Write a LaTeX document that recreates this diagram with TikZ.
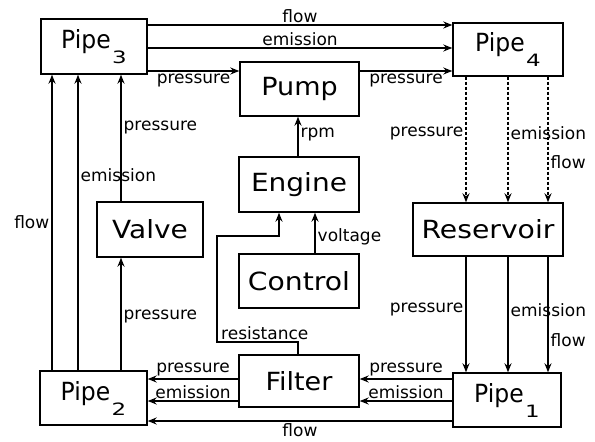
\documentclass[tikz,border=0pt]{standalone}
\usepackage{fontspec}
\setmainfont{DejaVu Sans}
\usetikzlibrary{arrows.meta}
\newcommand{\pipesub}[1]{\hspace{1.5pt}\raisebox{-15pt}{\scalebox{1.35}[1]{\fontsize{17}{17}\selectfont #1}}}
\newcommand{\boxtext}[2]{\scalebox{#1}[1]{#2}}
\begin{document}
\begin{tikzpicture}[x=1pt,y=-1pt,
  box/.style={draw,line width=1.4pt,rectangle,inner sep=0pt,font=\fontsize{25}{27}\selectfont},
  arr/.style={line width=1.4pt,-{Stealth[length=9pt,width=7pt,inset=3pt]}},
  dsh/.style={dash pattern=on 3pt off 2pt},
  lab/.style={font=\fontsize{17}{19}\selectfont,inner sep=2pt}]
\useasboundingbox (0,0) rectangle (595,442);
% nodes
\node[box,minimum width=106pt,minimum height=55pt] (Pipe3) at (94,46.5) {\boxtext{0.94}{Pipe}\pipesub{3}};
\node[box,minimum width=119pt,minimum height=54pt] (Pump) at (299.5,89) {\boxtext{1.08}{Pump}};
\node[box,minimum width=110pt,minimum height=53pt] (Pipe4) at (508,49.5) {\boxtext{0.94}{Pipe}\pipesub{4}};
\node[box,minimum width=150pt,minimum height=53pt] (Reservoir) at (488,229.5) {\boxtext{1.13}{Reservoir}};
\node[box,minimum width=108pt,minimum height=54pt] (Pipe1) at (507,400) {\boxtext{0.94}{Pipe}\pipesub{1}};
\node[box,minimum width=120pt,minimum height=52pt] (Filter) at (299,381) {\boxtext{1.08}{Filter}};
\node[box,minimum width=107pt,minimum height=54pt] (Pipe2) at (93.5,398) {\boxtext{0.94}{Pipe}\pipesub{2}};
\node[box,minimum width=106pt,minimum height=55pt] (Valve) at (150,229.5) {\boxtext{1.12}{Valve}};
\node[box,minimum width=120pt,minimum height=55pt] (Engine) at (299,184.5) {\boxtext{1.12}{Engine}};
\node[box,minimum width=120pt,minimum height=54pt] (Control) at (299,281) {\boxtext{1.13}{Control}};
% helper coordinates
\coordinate (r25) at (0,25);
\coordinate (r48) at (0,48);
\coordinate (r71) at (0,71);
\coordinate (r379) at (0,379);
\coordinate (r401) at (0,401);
\coordinate (r421) at (0,421);
\coordinate (c52) at (52,0);
\coordinate (c78) at (78,0);
\coordinate (c121) at (121,0);
\coordinate (c298) at (298,0);
\coordinate (c315) at (315,0);
\coordinate (c466) at (466,0);
\coordinate (c508) at (508,0);
\coordinate (c548) at (548,0);
\coordinate (b1) at (298,342);
\coordinate (b2) at (217,342);
\coordinate (b3) at (217,236);
\coordinate (b4) at (279,236);
% top
\draw[arr] (Pipe3.east |- r25) -- node[lab,above]{flow} (Pipe4.west |- r25);
\draw[arr] (Pipe3.east |- r48) -- node[lab,above]{emission} (Pipe4.west |- r48);
\draw[arr] (Pipe3.east |- r71) -- node[lab,below]{pressure} (Pump.west |- r71);
\draw[arr] (Pump.east |- r71) -- node[lab,below]{pressure} (Pipe4.west |- r71);
% Pipe4 -> Reservoir
\draw[arr,dsh] (Pipe4.south -| c466) -- node[lab,left,pos=0.45]{pressure} (Reservoir.north -| c466);
\draw[arr,dsh] (Pipe4.south -| c508) -- node[lab,right,pos=0.45]{emission} (Reservoir.north -| c508);
\draw[arr,dsh] (Pipe4.south -| c548) -- node[lab,right,pos=0.68]{flow} (Reservoir.north -| c548);
% Reservoir -> Pipe1
\draw[arr] (Reservoir.south -| c466) -- node[lab,left,pos=0.46]{pressure} (Pipe1.north -| c466);
\draw[arr] (Reservoir.south -| c508) -- node[lab,right,pos=0.46]{emission} (Pipe1.north -| c508);
\draw[arr] (Reservoir.south -| c548) -- node[lab,right,pos=0.72]{flow} (Pipe1.north -| c548);
% Pipe1 -> Filter / Pipe2
\draw[arr] (Pipe1.west |- r379) -- node[lab,above]{pressure} (Filter.east |- r379);
\draw[arr] (Pipe1.west |- r401) -- node[lab,above]{emission} (Filter.east |- r401);
\draw[arr] (Pipe1.west |- r421) -- node[lab,below]{flow} (Pipe2.east |- r421);
% Filter -> Pipe2
\draw[arr] (Filter.west |- r379) -- node[lab,above]{pressure} (Pipe2.east |- r379);
\draw[arr] (Filter.west |- r401) -- node[lab,above]{emission} (Pipe2.east |- r401);
% Pipe2 -> Pipe3 / Valve
\draw[arr] (Pipe2.north -| c52) -- node[lab,left,pos=0.5]{flow} (Pipe3.south -| c52);
\draw[arr] (Pipe2.north -| c78) -- node[lab,right,pos=0.66]{emission} (Pipe3.south -| c78);
\draw[arr] (Pipe2.north -| c121) -- node[lab,right,pos=0.48]{pressure} (Valve.south -| c121);
\draw[arr] (Valve.north -| c121) -- node[lab,right,pos=0.58]{pressure} (Pipe3.south -| c121);
% middle column
\draw[arr] (Engine.north -| c298) -- node[lab,right,pos=0.56]{rpm} (Pump.south -| c298);
\draw[arr] (Control.north -| c315) -- node[lab,right,pos=0.4]{voltage} (Engine.south -| c315);
\draw[arr] (Filter.north -| b1) -- (b1) -- node[lab,above,pos=0.41]{resistance} (b2) -- (b3) -- (b4) -- (Engine.south -| b4);
\end{tikzpicture}
\end{document}
